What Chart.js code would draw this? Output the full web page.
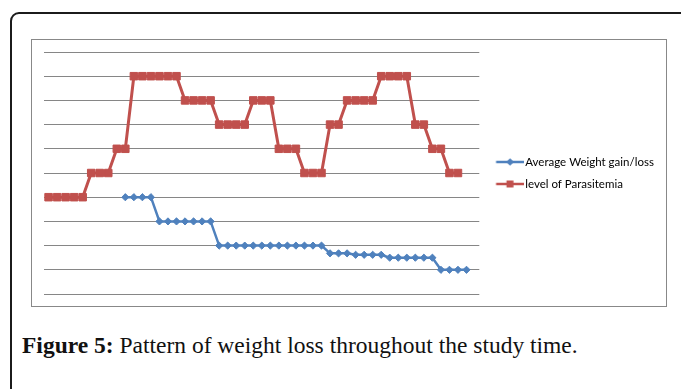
<!DOCTYPE html>
<html>
<head>
<meta charset="utf-8">
<title>Figure 5</title>
<script src="https://cdn.jsdelivr.net/npm/chart.js@4.4.1/dist/chart.umd.min.js"></script>
<style>
  body { margin: 0; background: #fff; width: 681px; height: 389px; overflow: hidden; position: relative; }
  #frame { position: absolute; left: 10px; top: 12px; width: 720px; height: 420px; border: 2px solid #1b1b1b; border-radius: 9px 0 0 0; box-sizing: border-box; }
  #plotBox { position: absolute; left: 31px; top: 39px; width: 636px; height: 268px; border: 1px solid #888; box-sizing: border-box; }
  #chartWrap { position: absolute; left: 32px; top: 40px; width: 634px; height: 266px; }
  #caption { position: absolute; left: 22px; top: 331px; font-family: "Liberation Serif", serif; font-size: 23.5px; line-height: 28px; color: #111; white-space: nowrap; }
  #caption b { font-weight: bold; }
</style>
</head>
<body>
<div id="frame"></div>
<div id="plotBox"></div>
<div id="chartWrap"><canvas id="weightChart" width="634" height="266"></canvas></div>
<div id="caption"><b>Figure 5:</b> Pattern of weight loss throughout the study time.</div>

<script>
// study days (no axis labels are shown on the figure)
const days = [
  "1", "2", "3", "4", "5", "6", "7", "8", "9", "10",
  "11", "12", "13", "14", "15", "16", "17", "18", "19", "20",
  "21", "22", "23", "24", "25", "26", "27", "28", "29", "30",
  "31", "32", "33", "34", "35", "36", "37", "38", "39", "40",
  "41", "42", "43", "44", "45", "46", "47", "48", "49", "50",
  "51"
];

const weightChange = [
  null, null, null, null, null, null, null, null, null,
  4, 4, 4, 4,
  3, 3, 3, 3, 3, 3, 3,
  2, 2, 2, 2, 2, 2, 2, 2, 2, 2, 2, 2, 2,
  1.68, 1.68, 1.68,
  1.62, 1.62, 1.62, 1.62,
  1.5, 1.5, 1.5, 1.5, 1.5, 1.5,
  1, 1, 1, 1,
  null
];

const parasitemia = [
  4, 4, 4, 4, 4,
  5, 5, 5,
  6, 6,
  9, 9, 9, 9, 9, 9,
  8, 8, 8, 8,
  7, 7, 7, 7,
  8, 8, 8,
  6, 6, 6,
  5, 5, 5,
  7, 7,
  8, 8, 8, 8,
  9, 9, 9, 9,
  7, 7,
  6, 6,
  5, 5,
  null, null
];

const seriesNames = ["Average Weight gain/loss", "level of Parasitemia"];
const blue = "#4F81BD";
const red = "#C0504D";

// little line + marker picture used as the legend symbol
function legendSample(color, marker) {
  const c = document.createElement("canvas");
  c.width = 38;
  c.height = 10;
  const g = c.getContext("2d");
  g.strokeStyle = color;
  g.fillStyle = color;
  g.lineWidth = 2.5;
  g.beginPath();
  g.moveTo(10.4, 5);
  g.lineTo(38, 5);
  g.stroke();
  g.beginPath();
  if (marker === "rect") {
    g.rect(20.8, 1.5, 7, 7);
  } else {
    g.moveTo(24.4, 1.2);
    g.lineTo(28.2, 5);
    g.lineTo(24.4, 8.8);
    g.lineTo(20.6, 5);
    g.closePath();
  }
  g.fill();
  return c;
}

const samples = [legendSample(blue, "rectRot"), legendSample(red, "rect")];

const legendWidth = {
  id: "legendWidth",
  beforeInit(chart) {
    const fit = chart.legend.fit;
    chart.legend.fit = function () {
      fit.call(this);
      this.width = 186.7;
    };
  }
};

document.addEventListener("DOMContentLoaded", () => {
  const ctx = document.getElementById("weightChart").getContext("2d");
  window.chart = new Chart(ctx, {
    type: "line",
    data: {
      labels: days,
      datasets: [
        {
          label: seriesNames[0],
          data: weightChange,
          borderColor: blue,
          backgroundColor: blue,
          borderWidth: 2.5,
          pointStyle: "rectRot",
          pointRadius: 3.6,
          pointBorderWidth: 1,
          pointBackgroundColor: blue,
          pointBorderColor: blue,
          tension: 0
        },
        {
          label: seriesNames[1],
          data: parasitemia,
          borderColor: red,
          backgroundColor: red,
          borderWidth: 3,
          pointStyle: "rect",
          pointRadius: 5.3,
          pointBorderWidth: 1,
          pointBackgroundColor: red,
          pointBorderColor: red,
          tension: 0
        }
      ]
    },
    options: {
      responsive: false,
      animation: false,
      events: [],
      layout: { padding: { left: 12.3, top: 12, bottom: 12, right: 0 } },
      scales: {
        x: {
          type: "category",
          offset: true,
          display: false
        },
        y: {
          min: 0,
          max: 10,
          ticks: { display: false, stepSize: 1 },
          grid: { color: "#868686", lineWidth: 1, drawTicks: false },
          border: { display: false }
        }
      },
      plugins: {
        tooltip: { enabled: false },
        legend: {
          position: "right",
          labels: {
            usePointStyle: true,
            pointStyleWidth: 29.7,
            padding: 10.5,
            color: "#1a1a1a",
            font: { family: "Lato", size: 11.5 },
            generateLabels: chart => chart.data.datasets.map((ds, i) => ({
              text: ds.label,
              pointStyle: samples[i],
              datasetIndex: i,
              fillStyle: "transparent",
              strokeStyle: "transparent",
              lineWidth: 0,
              hidden: false
            }))
          }
        }
      }
    },
    plugins: [legendWidth]
  });
});
</script>
</body>
</html>
